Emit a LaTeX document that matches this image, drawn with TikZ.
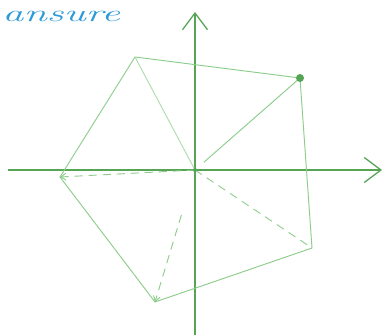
\documentclass[tikz,border=0pt]{standalone}
\usepackage{xcolor}
\definecolor{chalkgreen}{RGB}{85,165,85}
\definecolor{palegreen}{RGB}{140,205,140}
\definecolor{inkblue}{RGB}{45,155,215}
\usetikzlibrary{arrows.meta}

\begin{document}
\begin{tikzpicture}[x=0.03cm,y=-0.03cm,
  axis/.style={draw=chalkgreen,line width=1.1pt,-{Straight Barb[length=0.5cm,width=0.75cm]}},
  side/.style={draw=palegreen,line width=0.8pt},
  ray/.style={draw=palegreen,line width=0.8pt},
  dashray/.style={ray,dash pattern=on 7pt off 5pt,-{Straight Barb[length=0.15cm,width=0.2cm]}}]
  \clip (0,0) rectangle (383,335);
  \fill[white] (0,0) rectangle (383,335);
  % axes
  \coordinate (O) at (195,170);
  \coordinate (xl) at (8,170);
  \coordinate (xr) at (382,170);
  \coordinate (yb) at (195,335);
  \coordinate (yt) at (195,12);
  \draw[axis] (xl) -- (xr);
  \draw[axis] (yb) -- (yt);
  % pentagon
  \coordinate (A) at (300,78);
  \coordinate (B) at (135,57);
  \coordinate (C) at (60,177);
  \coordinate (D) at (155,302);
  \coordinate (E) at (312,248);
  \draw[side] (A) -- (B) -- (C) -- (D) -- (E) -- cycle;
  % rays from the origin
  \draw[ray,shorten <=10pt] (O) -- (A);
  \draw[ray,draw=palegreen!70] (O) -- (B);
  \draw[dashray] (O) -- (C);
  \draw[dashray,shorten <=40pt] (O) -- (D);
  \draw[dashray,-] (O) -- (E);
  \fill[chalkgreen] (A) circle (4);
  \fill[chalkgreen] (O) circle (2);
  % title
  \node[inkblue,anchor=base west,font=\fontsize{20}{20}\selectfont\itshape,xscale=1.8,inner sep=0pt] (title) at (2,21) {ansure};
\end{tikzpicture}
\end{document}
